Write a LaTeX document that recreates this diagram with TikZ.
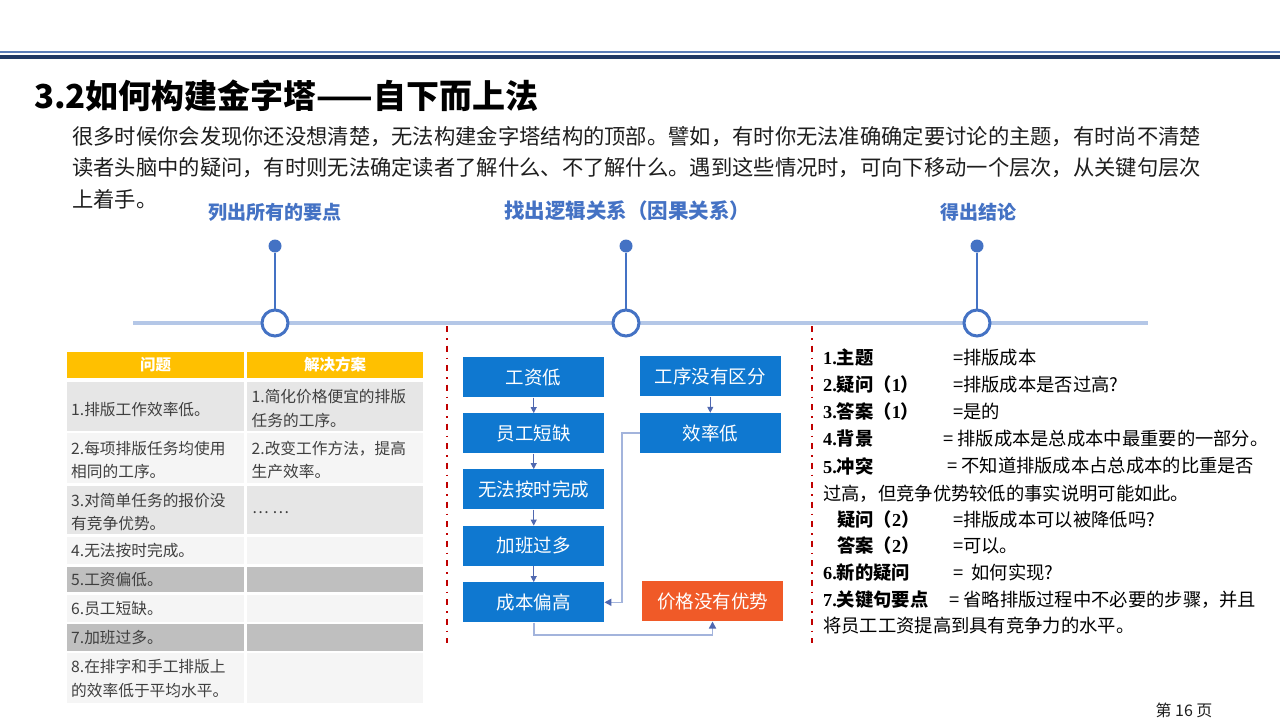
\documentclass[tikz,border=0pt]{standalone}
\usepackage{fontspec}
\setmainfont{Noto Sans CJK SC}
\newfontfamily\lserif{Liberation Serif}
\usetikzlibrary{arrows.meta}
\definecolor{navy}{HTML}{1F3864}
\definecolor{thinblue}{HTML}{5B7DB8}
\definecolor{tlblue}{HTML}{4472C4}
\definecolor{tlline}{HTML}{B4C7E7}
\definecolor{flowblue}{HTML}{0F78D0}
\definecolor{floworange}{HTML}{F05A28}
\definecolor{arrdark}{HTML}{5068B0}
\definecolor{arrlight}{HTML}{A3B4DC}
\definecolor{sepred}{HTML}{C00000}
\definecolor{hdr}{HTML}{FFC000}
\definecolor{rowA}{HTML}{E6E6E6}
\definecolor{rowB}{HTML}{F5F5F5}
\definecolor{rowC}{HTML}{BFBFBF}
\definecolor{tabtext}{HTML}{3F3F3F}
\definecolor{bodytext}{HTML}{1E1E1E}
\newcommand{\lb}[2]{{\lserif\bfseries #1}{\bfseries #2}}
\begin{document}
\begin{tikzpicture}[x=1pt,y=-1pt,
  para/.style={anchor=west, inner sep=0, text=bodytext, font=\fontsize{21.3}{25}\selectfont},
  steplab/.style={inner sep=0, text=tlblue, font=\bfseries\fontsize{19}{22}\selectfont},
  tlcircle/.style={circle, draw=tlblue, line width=3, fill=white, minimum size=26, inner sep=0},
  tldot/.style={circle, fill=tlblue, minimum size=13, inner sep=0},
  stem/.style={draw=tlblue, line width=2.5},
  sepline/.style={draw=sepred, line width=2, dash pattern=on 6pt off 6pt on 1.5pt off 6pt},
  flowbox/.style={fill=flowblue, text=white, minimum width=141, minimum height=40, inner sep=0, font=\fontsize{18.5}{22}\selectfont},
  warnbox/.style={flowbox, fill=floworange},
  smallarr/.style={draw=arrdark, line width=1, -{Triangle[length=6pt,width=6pt]}},
  longarr/.style={draw=arrlight, line width=1.6, -{Triangle[length=7pt,width=7pt,color=arrdark]}},
  tabcell/.style={anchor=west, inner sep=0, align=left, text=tabtext, font=\fontsize{15.7}{23.4}\selectfont},
  tabhead/.style={inner sep=0, text=white, font=\bfseries\fontsize{15.5}{18}\selectfont},
  rlab/.style={anchor=west, inner sep=0, text=black, font=\fontsize{18.3}{22}\selectfont},
  rval/.style={anchor=west, inner sep=0, text=black, font=\fontsize{18.3}{22}\selectfont}
]
\useasboundingbox[fill=white] (0,0) rectangle (1280,720);

% header rules
\draw[thinblue, line width=1.4] (0,52) -- (1280,52);
\fill[navy] (0,55) rectangle (1280,58.6);

% title
\node[anchor=west, inner sep=0, text=black, font=\bfseries\fontsize{33}{37}\selectfont] (title) at (34,96) {3.2如何构建金字塔——自下而上法};

% paragraph
\node[para] (p1) at (72,137) {很多时候你会发现你还没想清楚，无法构建金字塔结构的顶部。譬如，有时你无法准确确定要讨论的主题，有时尚不清楚};
\node[para] (p2) at (72,168) {读者头脑中的疑问，有时则无法确定读者了解什么、不了解什么。遇到这些情况时，可向下移动一个层次，从关键句层次};
\node[para] (p3) at (72,199) {上着手。};

% step labels
\node[steplab] (s1) at (275,212) {列出所有的要点};
\node[steplab, font=\bfseries\fontsize{20.5}{23}\selectfont] (s2) at (627,211) {找出逻辑关系（因果关系）};
\node[steplab] (s3) at (978,212) {得出结论};

% timeline
\draw[tlline, line width=4.5] (133,323) -- (1148,323);
\node[tlcircle] (c1) at (275,323) {};
\node[tlcircle] (c2) at (626,323) {};
\node[tlcircle] (c3) at (977,323) {};
\node[tldot] (d1) at (275,246) {};
\node[tldot] (d2) at (626,246) {};
\node[tldot] (d3) at (977,246) {};
\draw[stem] (d1) -- (c1);
\draw[stem] (d2) -- (c2);
\draw[stem] (d3) -- (c3);

% separators
\draw[sepline] (447,326) -- (447,643);
\draw[sepline] (812,326) -- (812,643);

% table
\fill[hdr] (66.7,352.3) rectangle (244.3,377.7);
\fill[hdr] (247,352.3) rectangle (423.3,377.7);
\foreach \t/\b/\c in {381.7/430.7/rowA, 433/482.7/rowB, 485.7/534.3/rowA, 537.3/564.3/rowB, 567/592.3/rowC, 595/621.7/rowB, 624.3/650.7/rowC, 653.3/702.7/rowB}{
  \fill[\c] (66.7,\t) rectangle (244.3,\b);
  \fill[\c] (247,\t) rectangle (423.3,\b);
}
\node[tabhead] (h1) at (155.5,365) {问题};
\node[tabhead] (h2) at (335,365) {解决方案};
\node[tabcell] (l1) at (71,410) {1.排版工作效率低。};
\node[tabcell] (r1) at (251.5,408.5) {1.简化价格便宜的排版\\任务的工序。};
\node[tabcell] (l2) at (71,460) {2.每项排版任务均使用\\相同的工序。};
\node[tabcell] (r2) at (251.5,460) {2.改变工作方法，提高\\生产效率。};
\node[tabcell] (l3) at (71,512) {3.对简单任务的报价没\\有竞争优势。};
\node[tabcell] (r3) at (252,513) {… …};
\node[tabcell] (l4) at (71,551) {4.无法按时完成。};
\node[tabcell] (l5) at (71,580) {5.工资偏低。};
\node[tabcell] (l6) at (71,609) {6.员工短缺。};
\node[tabcell] (l7) at (71,638) {7.加班过多。};
\node[tabcell] (l8) at (71,678.5) {8.在排字和手工排版上\\的效率低于平均水平。};

% flow chart
\node[flowbox] (a1) at (533.7,377.3) {工资低};
\node[flowbox] (a2) at (533.7,433.3) {员工短缺};
\node[flowbox] (a3) at (533.7,489.3) {无法按时完成};
\node[flowbox] (a4) at (533.7,545.8) {加班过多};
\node[flowbox] (a5) at (533.7,602.3) {成本偏高};
\node[flowbox] (b1) at (710.3,376.3) {工序没有区分};
\node[flowbox] (b2) at (710.3,433) {效率低};
\node[warnbox] (cc) at (712.5,601.3) {价格没有优势};
\draw[smallarr] (a1) -- (a2);
\draw[smallarr] (a2) -- (a3);
\draw[smallarr] (a3) -- (a4);
\draw[smallarr] (a4) -- (a5);
\draw[smallarr] (b1) -- (b2);
\draw[longarr] (b2.west) -- ++(-17.7,0) |- (a5.east);
\draw[longarr] (a5.south) -- ++(0,12.7) -| (cc.south);

% right text block
\node[rlab] (k1) at (823,358) {\lb{1.}{主题}};
\node[rval] (v1) at (953,358) {=排版成本};
\node[rlab] (k2) at (823,385) {\lb{2.}{疑问（}{\lserif\bfseries 1}{\bfseries ）}};
\node[rval] (v2) at (953,385) {=排版成本是否过高?};
\node[rlab] (k3) at (823,411.7) {\lb{3.}{答案（}{\lserif\bfseries 1}{\bfseries ）}};
\node[rval] (v3) at (953,411.7) {=是的};
\node[rlab] (k4) at (823,439) {\lb{4.}{背景}};
\node[rval] (v4) at (943,439) {= 排版成本是总成本中最重要的一部分。};
\node[rlab] (k5) at (823,466) {\lb{5.}{冲突}};
\node[rval] (v5) at (947,466) {= 不知道排版成本占总成本的比重是否};
\node[rval] (v5b) at (823,493.3) {过高，但竞争优势较低的事实说明可能如此。};
\node[rlab] (k6) at (837,519.3) {{\bfseries 疑问（}{\lserif\bfseries 2}{\bfseries ）}};
\node[rval] (v6) at (953,519.3) {=排版成本可以被降低吗?};
\node[rlab] (k7) at (837,546) {{\bfseries 答案（}{\lserif\bfseries 2}{\bfseries ）}};
\node[rval] (v7) at (953,546) {=可以。};
\node[rlab] (k8) at (823,572.7) {\lb{6.}{新的疑问}};
\node[rval] (v8) at (953,572.7) {=\ \ 如何实现?};
\node[rlab] (k9) at (823,599.3) {\lb{7.}{关键句要点}};
\node[rval] (v9) at (949,599.3) {= 省略排版过程中不必要的步骤，并且};
\node[rval] (v9b) at (823,626) {将员工工资提高到具有竞争力的水平。};

% page number
\node[inner sep=0, text=bodytext, font=\fontsize{16}{19}\selectfont] (pg) at (1184,710) {第 16 页};
\end{tikzpicture}
\end{document}
